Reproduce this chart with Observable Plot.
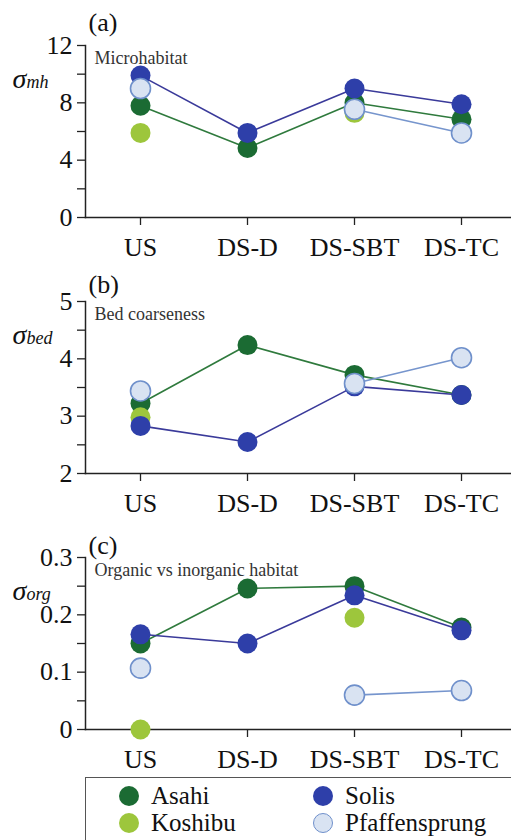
<!DOCTYPE html>
<html><head><meta charset="utf-8">
<script src="https://cdn.jsdelivr.net/npm/d3@7"></script>
<script src="https://cdn.jsdelivr.net/npm/@observablehq/plot@0.6"></script>
<style>
html,body{margin:0;padding:0;background:#fff}
body{width:511px;height:840px;overflow:hidden;font-family:"Liberation Serif";color:#111}
svg{display:block}
#legend{position:relative;margin-left:85px;margin-top:9px;width:440px;height:80px;border:1.5px solid #555;box-sizing:border-box}
.item{position:absolute;display:flex;align-items:center;font-family:"Liberation Serif";font-size:25px;line-height:27px;height:27px;white-space:nowrap}
.sw{display:inline-block;width:20px;height:20px;border-radius:50%;margin-right:12px;box-sizing:border-box}
</style></head><body><div id="chart"></div><script>
// Categories and series
const sites = ["US", "DS-D", "DS-SBT", "DS-TC"];
const seriesNames = ["Asahi", "Koshibu", "Solis", "Pfaffensprung"];

// (a) Microhabitat  σ_mh
const mhAsahi = [7.8, 4.85, 8.0, 6.85];
const mhKoshibu = [5.9, null, 7.3, null];
const mhSolis = [9.9, 5.9, 9.0, 7.9];
const mhPfaff = [9.0, null, 7.55, 5.9];

// (b) Bed coarseness  σ_bed
const bedAsahi = [3.22, 4.24, 3.72, 3.37];
const bedKoshibu = [2.98, null, 3.56, null];
const bedSolis = [2.83, 2.55, 3.52, 3.37];
const bedPfaff = [3.44, null, 3.57, 4.02];

// (c) Organic vs inorganic habitat  σ_org
const orgAsahi = [0.15, 0.246, 0.25, 0.178];
const orgKoshibu = [0, null, 0.195, null];
const orgSolis = [0.166, 0.15, 0.234, 0.173];
const orgPfaff = [0.107, null, 0.06, 0.068];

// Axis ticks
const mhTicks = [0, 4, 8, 12], mhMinor = [2, 6, 10];
const bedTicks = [2, 3, 4, 5], bedMinor = [2.5, 3.5, 4.5];
const orgTicks = [0, 0.1, 0.2, 0.3], orgMinor = [0.05, 0.15, 0.25];

const style = {
  Asahi: {fill: "#1b6b33", stroke: "none", line: "#2f7a3d"},
  Koshibu: {fill: "#9dc63c", stroke: "none", line: null},
  Solis: {fill: "#2e3fa9", stroke: "none", line: "#3a3a9a"},
  Pfaffensprung: {fill: "#d9e3f2", stroke: "#6f90cb", line: "#7695cd"}
};

const serif = "Liberation Serif";

function rows(name, vals) {
  return sites.map((s, i) => ({series: name, site: s, value: vals[i] == null ? NaN : vals[i]}));
}

function panel({tag, tagDy, title, sub, sets, domain, major, minor}) {
  const marks = [];
  marks.push(Plot.frame({anchor: "left", stroke: "#222", strokeWidth: 1.5}));
  marks.push(Plot.frame({anchor: "bottom", stroke: "#222", strokeWidth: 1.5}));
  marks.push(Plot.axisY({ticks: major.concat(minor), tickSize: 8, tickPadding: 5,
    tickFormat: d => major.includes(d) ? String(d) : "",
    fontSize: 26, fontFamily: serif, fill: "#111", stroke: "#222", strokeWidth: 1.3}));
  marks.push(Plot.axisX({tickSize: 8, tickPadding: 12, fontSize: 26, fontFamily: serif,
    fill: "#111", stroke: "#222", strokeWidth: 1.3}));
  seriesNames.forEach((name, k) => {
    const data = rows(name, sets[k]);
    const st = style[name];
    if (st.line) marks.push(Plot.line(data, {x: "site", y: "value", stroke: st.line, strokeWidth: 1.6}));
    marks.push(Plot.dot(data, {x: "site", y: "value", r: 10, fill: st.fill,
      stroke: st.stroke, strokeWidth: 1.6}));
  });
  marks.push(Plot.text([tag], {frameAnchor: "top-left", dx: 3, dy: tagDy, textAnchor: "start",
    fontSize: 26, fontFamily: serif, fill: "#111"}));
  marks.push(Plot.text([title], {frameAnchor: "top-left", dx: 9, dy: 6, textAnchor: "start",
    fontSize: 18, fontFamily: serif, fill: "#333"}));
  marks.push(Plot.text(["σ"], {frameAnchor: "top-left", dx: -73, dy: 23, textAnchor: "start",
    fontSize: 28, fontStyle: "italic", fontFamily: serif, fill: "#111"}));
  marks.push(Plot.text([sub], {frameAnchor: "top-left", dx: -59, dy: 30, textAnchor: "start",
    fontSize: 18, fontStyle: "italic", fontFamily: serif, fill: "#111"}));
  return Plot.plot({
    width: 511, height: 256,
    marginLeft: 85, marginRight: 0, marginTop: 45, marginBottom: 39,
    style: {fontFamily: serif, background: "#fff", overflow: "visible"},
    x: {type: "point", domain: sites, range: [140, 461], padding: 0, label: null},
    y: {domain, label: null},
    marks
  });
}

const chart = document.getElementById("chart");
chart.append(panel({tag: "(a)", tagDy: -33, title: "Microhabitat", sub: "mh",
  sets: [mhAsahi, mhKoshibu, mhSolis, mhPfaff], domain: [0, 12], major: mhTicks, minor: mhMinor}));
chart.append(panel({tag: "(b)", tagDy: -27, title: "Bed coarseness", sub: "bed",
  sets: [bedAsahi, bedKoshibu, bedSolis, bedPfaff], domain: [2, 5], major: bedTicks, minor: bedMinor}));
chart.append(panel({tag: "(c)", tagDy: -22, title: "Organic vs inorganic habitat", sub: "org",
  sets: [orgAsahi, orgKoshibu, orgSolis, orgPfaff], domain: [0, 0.3], major: orgTicks, minor: orgMinor}));

// Legend (HTML, below the plots)
const legend = document.createElement("div");
legend.id = "legend";
const pos = {Asahi: [33, 4], Solis: [227, 4], Koshibu: [33, 31], Pfaffensprung: [227, 31]};
seriesNames.forEach(name => {
  const it = document.createElement("div");
  it.className = "item";
  it.style.left = pos[name][0] + "px";
  it.style.top = pos[name][1] + "px";
  const sw = document.createElement("span");
  sw.className = "sw";
  sw.style.background = style[name].fill;
  if (style[name].stroke !== "none") sw.style.border = "1.6px solid " + style[name].stroke;
  it.append(sw, document.createTextNode(name));
  legend.append(it);
});
document.body.append(legend);
</script></body></html>
